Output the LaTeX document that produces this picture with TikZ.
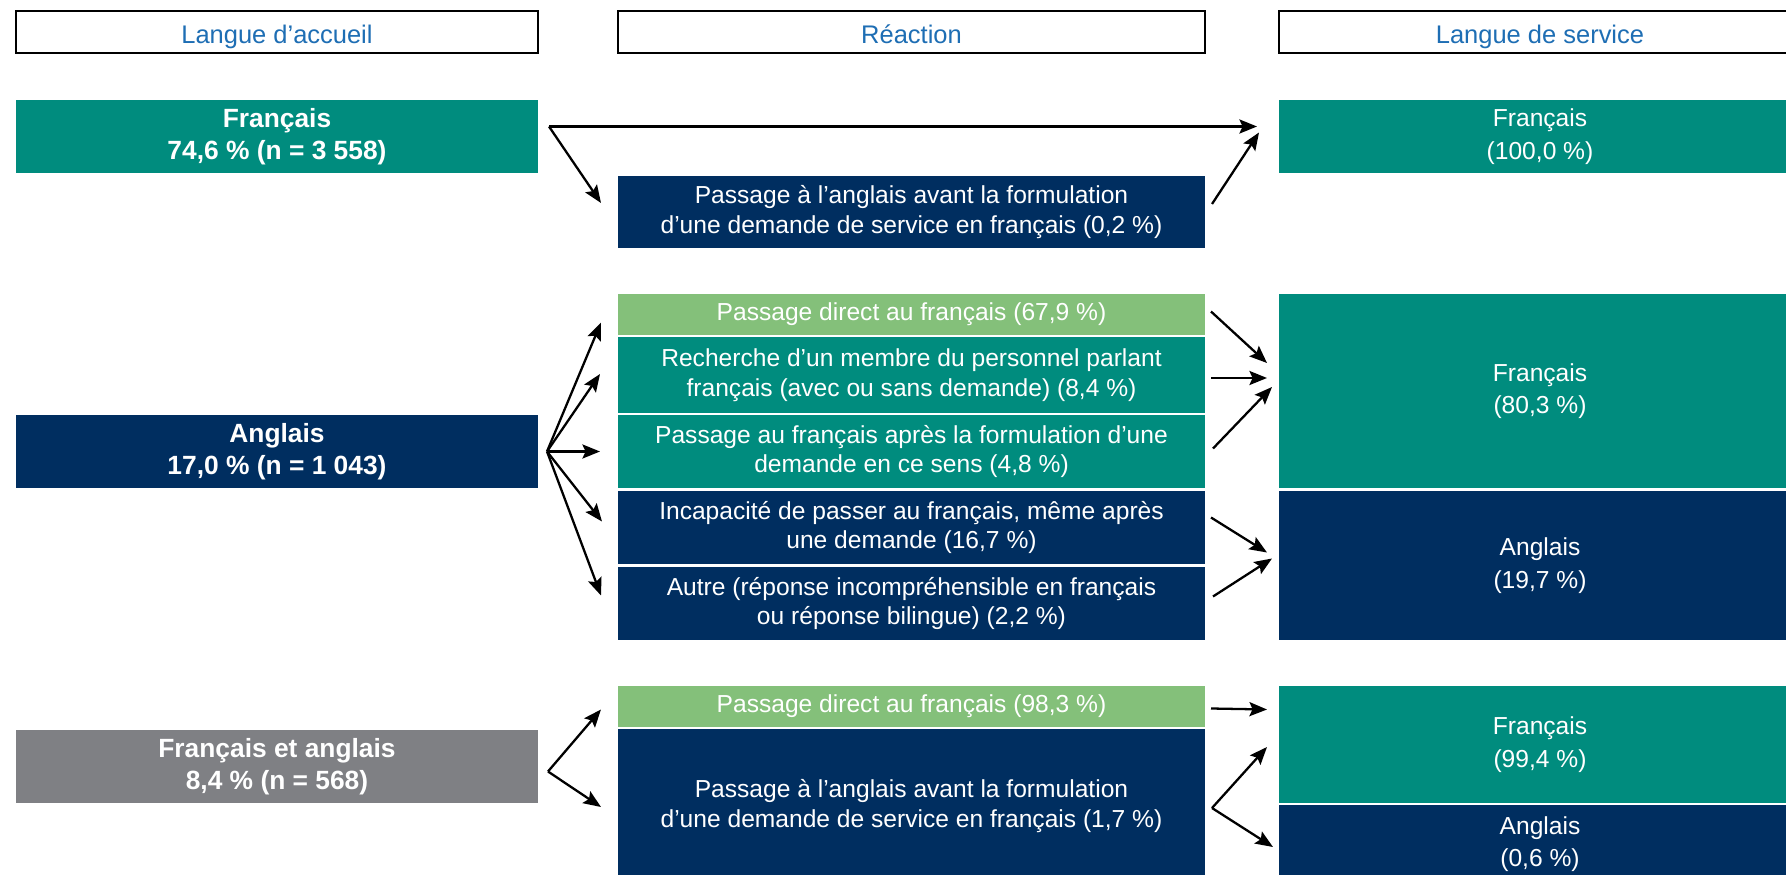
\documentclass[tikz,border=0pt]{standalone}
\usepackage{fontspec}
\setmainfont{Liberation Sans}
\usepackage{tikz}
\usetikzlibrary{calc,arrows.meta}
\usepackage{xcolor}
\definecolor{sarcelle}{RGB}{0,140,126}
\definecolor{marine}{RGB}{0,46,96}
\definecolor{vertpale}{RGB}{132,192,122}
\definecolor{grismoyen}{RGB}{127,128,132}
\definecolor{bleutitre}{RGB}{30,110,180}
\newcommand{\unitpx}{0.02cm}
\newcommand{\titre}[4]{\node[titre,minimum width=#4*\unitpx] (#1) at (#2,#3)}
\newcommand{\bloc}[6]{\node[bloc,fill=#2,minimum width=#5*\unitpx,minimum height=#6*\unitpx] (#1) at (#3,#4)}
\newcommand{\fleche}[2]{\draw[fleche] (#1) -- (#2);}
\tikzset{
	titre/.style={anchor=north west,inner sep=0pt,outer sep=0pt,draw=black,line width=1.2pt,fill=white,
		text=bleutitre,text height=2.4ex,text depth=0pt,minimum height=42*\unitpx,font=\fontsize{14.5}{17}\selectfont},
	bloc/.style={anchor=north west,inner sep=0pt,outer sep=0pt,text=white,align=center,
		font=\fontsize{14}{17}\selectfont},
	source/.style={font=\fontsize{15}{18.5}\selectfont\bfseries},
	cible/.style={font=\fontsize{14}{18.5}\selectfont},
	fleche/.style={line width=1.3pt,-{Stealth[length=10pt,width=8pt,inset=1.8pt]}}
}

\begin{document}
\begin{tikzpicture}[x=\unitpx,y=-\unitpx]
	\useasboundingbox (0,0) rectangle (1786,875);
	
	\titre{hA}{16}{11}{522} {Langue d’accueil};
	\titre{hR}{618}{11}{587} {Réaction};
	\titre{hS}{1279}{11}{522} {Langue de service};
	
	% langue d'accueil
	\bloc{fr}{sarcelle}{16}{100}{522}{73} [source] {Français\\74,6 \% (n = 3 558)};
	\bloc{an}{marine}{16}{415}{522}{73} [source] {Anglais\\17,0 \% (n = 1 043)};
	\bloc{fa}{grismoyen}{16}{730}{522}{73} [source] {Français et anglais\\8,4 \% (n = 568)};
	
	% reaction
	\bloc{r1}{marine}{618}{176}{587}{72} {Passage à l’anglais avant la formulation\\d’une demande de service en français (0,2 \%)};
	\bloc{r2a}{vertpale}{618}{294}{587}{41} {Passage direct au français (67,9 \%)};
	\bloc{r2b}{sarcelle}{618}{337}{587}{76} {Recherche d’un membre du personnel parlant\\français (avec ou sans demande) (8,4 \%)};
	\bloc{r2c}{sarcelle}{618}{415}{587}{73} {Passage au français après la formulation d’une\\demande en ce sens (4,8 \%)};
	\bloc{r2d}{marine}{618}{491}{587}{73} {Incapacité de passer au français, même après\\une demande (16,7 \%)};
	\bloc{r2e}{marine}{618}{567}{587}{73} {Autre (réponse incompréhensible en français\\ou réponse bilingue) (2,2 \%)};
	\bloc{r3a}{vertpale}{618}{686}{587}{41} {Passage direct au français (98,3 \%)};
	\bloc{r3b}{marine}{618}{729}{587}{154} {Passage à l’anglais avant la formulation\\d’une demande de service en français (1,7 \%)};
	
	% langue de service
	\bloc{s1}{sarcelle}{1279}{100}{522}{73} [cible] {Français\\(100,0 \%)};
	\bloc{s2a}{sarcelle}{1279}{294}{522}{194} [cible] {Français\\(80,3 \%)};
	\bloc{s2b}{marine}{1279}{491}{522}{149} [cible] {Anglais\\(19,7 \%)};
	\bloc{s3a}{sarcelle}{1279}{686}{522}{117} [cible] {Français\\(99,4 \%)};
	\bloc{s3b}{marine}{1279}{805}{522}{78} [cible] {Anglais\\(0,6 \%)};
	
	\coordinate (o1) at ($(fr.east)+(11,-10)$);
	\coordinate (o2) at ($(an.east)+(9,0)$);
	\coordinate (o3) at ($(fa.east)+(10,5)$);
	\coordinate (o4) at ($(r3b.east)+(7,2)$);
	
	\fleche{o1}{$(s1.west)+(-22,-10)$}
	\fleche{o1}{$(r1.west)+(-17,-9)$}
	\fleche{$(r1.east)+(7,-8)$}{$(s1.west)+(-20,-4)$}
	
	\fleche{o2}{$(r2a.west)+(-17,8)$}
	\fleche{o2}{$(r2b.west)+(-18,-1)$}
	\fleche{o2}{$(r2c.west)+(-18,0)$}
	\fleche{o2}{$(r2d.west)+(-16,-6)$}
	\fleche{o2}{$(r2e.west)+(-17,-8)$}
	\fleche{$(r2a.east)+(6,-3)$}{$(s2a.west)+(-12,-28)$}
	\fleche{$(r2b.east)+(6,3)$}{$(s2a.west)+(-12,-13)$}
	\fleche{$(r2c.east)+(8,-3)$}{$(s2a.west)+(-7,-4)$}
	\fleche{$(r2d.east)+(6,-10)$}{$(s2b.west)+(-12,-13)$}
	\fleche{$(r2e.east)+(8,-7)$}{$(s2b.west)+(-7,-7)$}
	
	\fleche{o3}{$(r3a.west)+(-17,3)$}
	\fleche{o3}{$(r3b.west)+(-17,1)$}
	\fleche{$(r3a.east)+(6,2)$}{$(s3a.west)+(-12,-35)$}
	\fleche{o4}{$(s3a.west)+(-12,2.5)$}
	\fleche{o4}{$(s3b.west)+(-6,3)$}
\end{tikzpicture}
\end{document}
